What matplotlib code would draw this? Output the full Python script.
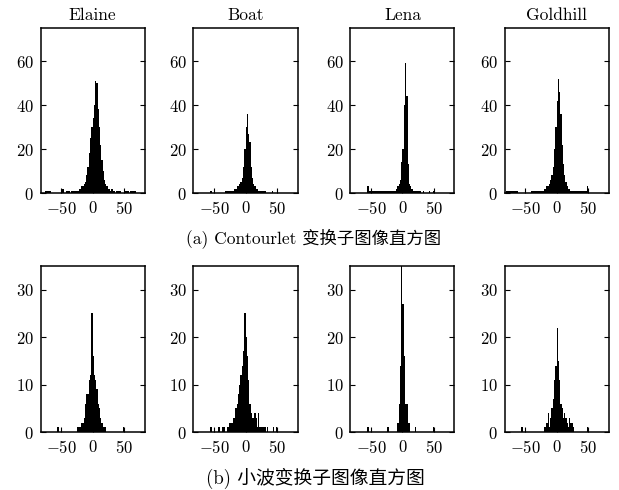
import matplotlib
matplotlib.use("Agg")
import matplotlib.pyplot as plt
import numpy as np

plt.rcParams['font.family'] = ['cmr10', 'Noto Sans CJK SC', 'DejaVu Sans']
plt.rcParams['mathtext.fontset'] = 'cm'
plt.rcParams['axes.formatter.use_mathtext'] = True
plt.rcParams['font.size'] = 11

# histogram bins: width 2, from -80 to 80 (centres -79, -77, ..., 79)
bin_edges = np.arange(-80, 82, 2)

image_names = ['Elaine', 'Boat', 'Lena', 'Goldhill']

# (a) Contourlet sub-band histograms
elaine_ct = [0, 0, 1, 1, 1, 1, 1, 0, 0, 0,
             0, 0, 0, 0, 0, 0, 2, 0, 0, 1,
             1, 1, 0, 1, 1, 1, 1, 1, 1, 2,
             2, 3, 3, 4, 5, 8, 12, 18, 25, 30,
             34, 40, 51, 50, 38, 30, 22, 15, 10, 6,
             4, 3, 2, 2, 1, 2, 1, 1, 0, 1,
             1, 1, 1, 0, 0, 1, 1, 1, 1, 0,
             1, 1, 1, 1, 1, 0, 0, 0, 0, 0]
boat_ct = [0, 0, 0, 0, 0, 0, 0, 0, 0, 0,
           0, 0, 1, 0, 0, 0, 0, 0, 0, 0,
           0, 0, 0, 0, 1, 1, 1, 1, 1, 1,
           1, 2, 2, 3, 3, 4, 5, 7, 12, 20,
           30, 36, 27, 23, 12, 7, 4, 3, 2, 2,
           1, 1, 1, 1, 1, 1, 0, 0, 0, 0,
           0, 1, 0, 0, 0, 1, 0, 0, 0, 0,
           0, 0, 0, 0, 0, 0, 0, 0, 0, 0]
lena_ct = [0, 0, 0, 0, 0, 0, 0, 0, 0, 0,
           0, 0, 3, 1, 1, 1, 1, 1, 1, 1,
           1, 1, 1, 1, 1, 1, 1, 1, 1, 1,
           1, 1, 1, 1, 1, 2, 3, 4, 6, 14,
           20, 40, 59, 44, 13, 4, 3, 2, 1, 1,
           1, 1, 1, 1, 1, 0, 1, 0, 0, 0,
           0, 1, 0, 0, 1, 0, 0, 0, 0, 0,
           0, 0, 0, 0, 0, 0, 0, 0, 0, 0]
goldhill_ct = [1, 1, 1, 1, 1, 1, 1, 1, 1, 0,
               0, 0, 0, 0, 0, 0, 0, 0, 0, 0,
               1, 1, 1, 1, 1, 1, 1, 1, 1, 1,
               2, 2, 3, 3, 4, 6, 8, 12, 20, 30,
               42, 52, 46, 36, 22, 13, 8, 5, 3, 2,
               2, 1, 1, 1, 1, 1, 1, 1, 1, 1,
               1, 1, 1, 1, 3, 0, 0, 0, 0, 0,
               0, 0, 0, 0, 0, 0, 0, 0, 0, 0]

# (b) wavelet sub-band histograms
elaine_wt = [0, 0, 0, 0, 0, 0, 0, 0, 0, 0,
             0, 0, 1, 0, 0, 0, 0, 0, 0, 0,
             0, 0, 0, 0, 0, 0, 0, 0, 1, 1,
             1, 2, 2, 3, 6, 8, 8, 11, 12, 25,
             16, 12, 11, 9, 6, 5, 3, 2, 1, 1,
             1, 0, 0, 0, 0, 0, 0, 0, 0, 0,
             0, 0, 0, 0, 1, 0, 0, 0, 0, 0,
             0, 0, 0, 0, 0, 0, 0, 0, 0, 0]
boat_wt = [0, 0, 0, 0, 0, 0, 0, 0, 0, 0,
           0, 0, 1, 0, 0, 0, 0, 0, 1, 1,
           0, 1, 1, 1, 0, 1, 1, 2, 2, 2,
           3, 3, 5, 6, 8, 10, 12, 14, 17, 25,
           20, 16, 11, 6, 4, 3, 3, 4, 3, 1,
           4, 1, 1, 1, 1, 1, 0, 1, 0, 0,
           0, 0, 1, 0, 1, 0, 0, 0, 0, 0,
           0, 0, 0, 0, 0, 0, 0, 0, 0, 0]
lena_wt = [0, 0, 0, 0, 0, 0, 0, 0, 0, 0,
           0, 0, 1, 0, 0, 0, 0, 0, 0, 0,
           0, 0, 0, 0, 0, 0, 0, 0, 1, 0,
           0, 0, 0, 0, 0, 0, 2, 6, 14, 40,
           27, 16, 6, 6, 2, 2, 0, 0, 0, 0,
           1, 0, 0, 0, 0, 0, 0, 0, 0, 0,
           0, 0, 0, 0, 1, 0, 0, 0, 0, 0,
           0, 0, 0, 0, 0, 0, 0, 0, 0, 0]
goldhill_wt = [0, 0, 0, 0, 0, 0, 0, 0, 0, 0,
               0, 0, 1, 0, 0, 0, 0, 0, 0, 0,
               0, 0, 0, 0, 0, 0, 0, 0, 0, 0,
               1, 1, 2, 4, 1, 3, 5, 7, 11, 14,
               22, 15, 11, 6, 5, 3, 4, 3, 2, 1,
               3, 2, 2, 1, 0, 0, 0, 0, 0, 0,
               0, 0, 0, 0, 1, 0, 0, 0, 0, 0,
               0, 0, 0, 0, 0, 0, 0, 0, 0, 0]

top_counts = [elaine_ct, boat_ct, lena_ct, goldhill_ct]
bottom_counts = [elaine_wt, boat_wt, lena_wt, goldhill_wt]
top_yticks = [0, 20, 40, 60]
bottom_yticks = [0, 10, 20, 30]
x_ticks = [-50, 0, 50]

caption_a = '(a) Contourlet 变换子图像直方图'
caption_b = '(b) 小波变换子图像直方图'


def draw_panel(ax, counts, ymax, yticks):
    ax.stairs(counts, bin_edges, fill=True, color='black', linewidth=0)
    ax.set_xlim(-83, 83)
    ax.set_ylim(0, ymax)
    ax.set_xticks(x_ticks)
    ax.set_yticks(yticks)
    ax.tick_params(direction='in', length=3.5, width=0.8, pad=5,
                   right=True, top=False, labelsize=12)
    for spine in ax.spines.values():
        spine.set_linewidth(1.1)


def main():
    fig = plt.figure(figsize=(6.19, 4.90), dpi=100)
    lefts = [40.5, 193.5, 350.5, 504.5]
    w = 104 / 619

    for i in range(4):
        ax = fig.add_axes([lefts[i] / 619, 1 - 193 / 490, w, 165 / 490])
        draw_panel(ax, top_counts[i], 75, top_yticks)
        ax.set_title(image_names[i], fontsize=12.5, pad=6)

        ax = fig.add_axes([lefts[i] / 619, 1 - 432 / 490, w, 166 / 490])
        draw_panel(ax, bottom_counts[i], 35, bottom_yticks)

    fig.text(314 / 619, 1 - 238 / 490, caption_a, ha='center', va='center', fontsize=12.5)
    fig.text(315 / 619, 1 - 478 / 490, caption_b, ha='center', va='center', fontsize=13.5)

    fig.savefig('out.png', dpi=100)


if __name__ == '__main__':
    main()
